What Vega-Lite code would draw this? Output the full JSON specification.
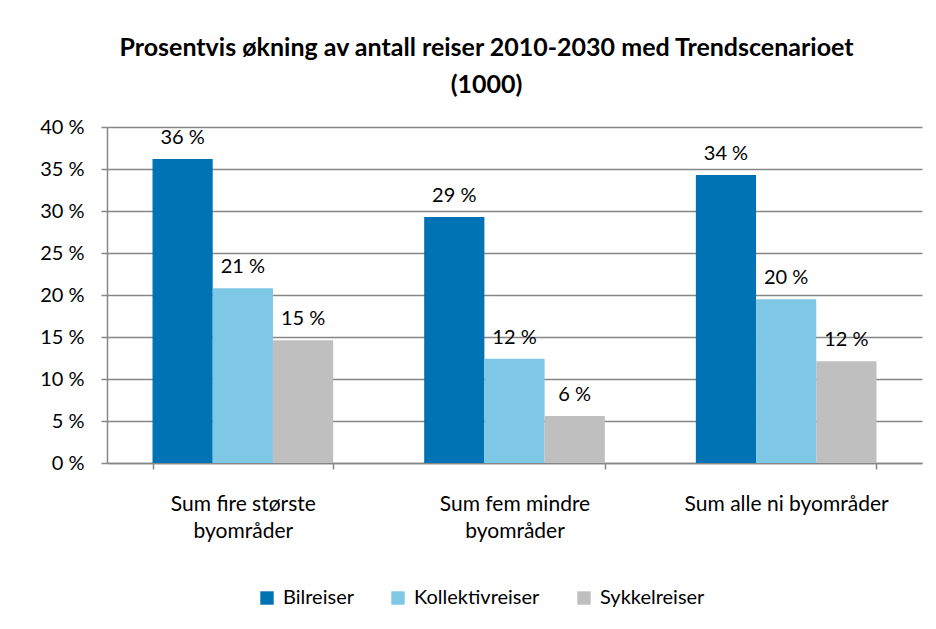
{
  "$schema": "https://vega.github.io/schema/vega-lite/v6.json",
  "width": 815,
  "height": 336,
  "autosize": {"type": "none"},
  "padding": {"left": 107, "top": 127, "right": 14, "bottom": 166},
  "background": "white",
  "title": {
    "text": ["Prosentvis økning av antall reiser 2010-2030 med Trendscenarioet", "(1000)"],
    "font": "Lato",
    "fontSize": 25,
    "fontWeight": "bold",
    "color": "#000000",
    "anchor": "middle",
    "frame": "group",
    "dx": -28,
    "offset": 19,
    "lineHeight": 37
  },
  "data": {
    "values": [
      {"kategori": "Sum fire største byområder", "serie": "Bilreiser", "verdi": 36.2},
      {"kategori": "Sum fire største byområder", "serie": "Kollektivreiser", "verdi": 20.8},
      {"kategori": "Sum fire største byområder", "serie": "Sykkelreiser", "verdi": 14.6},
      {"kategori": "Sum fem mindre byområder", "serie": "Bilreiser", "verdi": 29.3},
      {"kategori": "Sum fem mindre byområder", "serie": "Kollektivreiser", "verdi": 12.4},
      {"kategori": "Sum fem mindre byområder", "serie": "Sykkelreiser", "verdi": 5.6},
      {"kategori": "Sum alle ni byområder", "serie": "Bilreiser", "verdi": 34.3},
      {"kategori": "Sum alle ni byområder", "serie": "Kollektivreiser", "verdi": 19.5},
      {"kategori": "Sum alle ni byområder", "serie": "Sykkelreiser", "verdi": 12.1}
    ]
  },
  "transform": [
    {"calculate": "format(datum.verdi, '.0f') + ' %'", "as": "etikett"}
  ],
  "encoding": {
    "x": {
      "field": "kategori",
      "type": "nominal",
      "sort": null,
      "scale": {"paddingInner": 0.335, "paddingOuter": 0.1675},
      "axis": {
        "title": null,
        "labelAngle": 0,
        "labelFont": "Lato",
        "labelFontSize": 21,
        "labelColor": "#000000",
        "labelPadding": 24,
        "labelLineHeight": 27,
        "labelLimit": 400,
        "labelExpr": "datum.value == 'Sum fire største byområder' ? ['Sum fire største', 'byområder'] : datum.value == 'Sum fem mindre byområder' ? ['Sum fem mindre', 'byområder'] : datum.value",
        "tickBand": "extent",
        "tickSize": 6,
        "tickColor": "#868686",
        "tickWidth": 1.5,
        "domainColor": "#868686",
        "domainWidth": 1.5,
        "grid": false
      }
    },
    "xOffset": {"field": "serie", "type": "nominal", "sort": ["Bilreiser", "Kollektivreiser", "Sykkelreiser"]},
    "y": {
      "field": "verdi",
      "type": "quantitative",
      "scale": {"domain": [0, 40]},
      "axis": {
        "title": null,
        "values": [0, 5, 10, 15, 20, 25, 30, 35, 40],
        "labelExpr": "datum.value + ' %'",
        "labelFont": "Lato",
        "labelFontSize": 20,
        "labelColor": "#000000",
        "labelPadding": 17,
        "tickSize": 6,
        "tickColor": "#868686",
        "tickWidth": 1.5,
        "domainColor": "#868686",
        "domainWidth": 1.5,
        "gridColor": "#868686",
        "gridWidth": 1.5
      }
    }
  },
  "layer": [
    {
      "mark": {"type": "bar"},
      "encoding": {
        "color": {
          "field": "serie",
          "type": "nominal",
          "sort": ["Bilreiser", "Kollektivreiser", "Sykkelreiser"],
          "scale": {"domain": ["Bilreiser", "Kollektivreiser", "Sykkelreiser"], "range": ["#0073B4", "#7EC8E5", "#BFBFBF"]},
          "legend": {
            "title": null,
            "orient": "none",
            "direction": "horizontal",
            "legendX": 150,
            "legendY": 461,
            "symbolType": "square",
            "symbolSize": 180,
            "symbolStrokeWidth": 0,
            "symbolOpacity": 1,
            "labelFont": "Lato",
            "labelFontSize": 20,
            "labelColor": "#000000",
            "labelOffset": 6,
            "columnPadding": 34
          }
        }
      }
    },
    {
      "mark": {"type": "text", "baseline": "bottom", "dy": -11, "font": "Lato", "fontSize": 20, "color": "#000000"},
      "encoding": {
        "text": {"field": "etikett"}
      }
    }
  ],
  "config": {
    "view": {"stroke": null}
  }
}
